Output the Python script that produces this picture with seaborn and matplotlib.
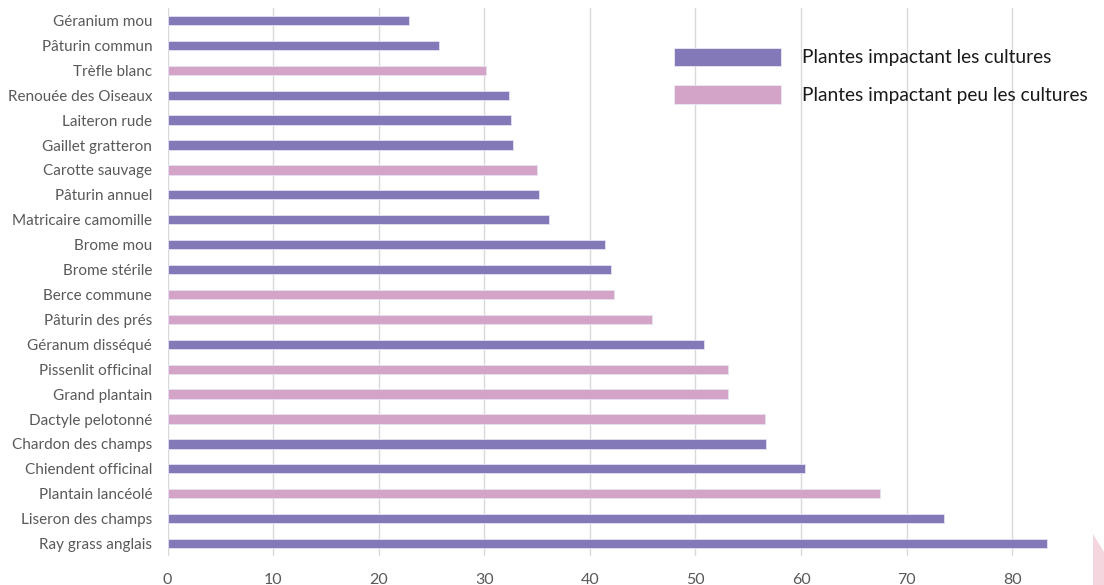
import matplotlib
matplotlib.use("Agg")
import matplotlib.pyplot as plt
from matplotlib.patches import Patch, Polygon
import seaborn as sns
import pandas as pd

# Espèces, fréquence observée et groupe d'impact
especes = [
    "Géranium mou", "Pâturin commun", "Trèfle blanc", "Renouée des Oiseaux",
    "Laiteron rude", "Gaillet gratteron", "Carotte sauvage", "Pâturin annuel",
    "Matricaire camomille", "Brome mou", "Brome stérile", "Berce commune",
    "Pâturin des prés", "Géranum disséqué", "Pissenlit officinal", "Grand plantain",
    "Dactyle pelotonné", "Chardon des champs", "Chiendent officinal",
    "Plantain lancéolé", "Liseron des champs", "Ray grass anglais",
]
valeurs = [
    22.9, 25.7, 30.2, 32.3, 32.5, 32.7, 35.0, 35.2, 36.1, 41.4, 42.0, 42.3,
    45.9, 50.8, 53.1, 53.1, 56.6, 56.7, 60.4, 67.5, 73.5, 83.3,
]
groupe_fort = "Plantes impactant les cultures"
groupe_faible = "Plantes impactant peu les cultures"
groupes = [
    groupe_fort, groupe_fort, groupe_faible, groupe_fort, groupe_fort, groupe_fort,
    groupe_faible, groupe_fort, groupe_fort, groupe_fort, groupe_fort, groupe_faible,
    groupe_faible, groupe_fort, groupe_faible, groupe_faible, groupe_faible,
    groupe_fort, groupe_fort, groupe_faible, groupe_fort, groupe_fort,
]
graduations = [0, 10, 20, 30, 40, 50, 60, 70, 80]
couleurs = {groupe_fort: "#8379B8", groupe_faible: "#D4A3C8"}

df = pd.DataFrame({"espece": especes, "valeur": valeurs, "groupe": groupes})

sns.set_theme(style="white")
plt.rcParams["font.family"] = ["Lato", "DejaVu Sans"]

fig = plt.figure(figsize=(11.04, 5.85), dpi=100)
ax = fig.add_axes([167.5 / 1104, 1 - 556 / 585, (1065 - 167.5) / 1104, (556 - 8) / 585])

sns.barplot(
    data=df, y="espece", x="valeur", hue="groupe", palette=couleurs,
    order=especes, hue_order=[groupe_fort, groupe_faible],
    dodge=False, width=0.37, orient="h", ax=ax, legend=False,
    saturation=1, edgecolor="#e6e1f2", linewidth=0.6,
)

ax.set_xlim(0, 85)
ax.set_ylim(len(especes) - 0.5, -0.5)
ax.set_xticks(graduations)
ax.set_xticklabels([str(g) for g in graduations])
ax.grid(axis="x", color="#d9d9d9", linewidth=1.0)
ax.set_axisbelow(True)
for s in ax.spines.values():
    s.set_visible(False)
ax.set_xlabel("")
ax.set_ylabel("")
ax.tick_params(axis="both", length=0, colors="#595959", labelsize=11)
ax.tick_params(axis="y", pad=11)
ax.tick_params(axis="x", pad=12, labelsize=11.5)

poignees = [Patch(facecolor=couleurs[g], edgecolor="#ece8f5", linewidth=0.6, label=g)
            for g in [groupe_fort, groupe_faible]]
leg = ax.legend(
    handles=poignees, loc="upper left",
    bbox_to_anchor=((666 - 167.5) / (1065 - 167.5), 1 - (40 - 8) / 548),
    frameon=False, fontsize=13.8, handlelength=5.6, handleheight=1.1,
    labelspacing=0.98, handletextpad=1.1, borderaxespad=0,
)
for t in leg.get_texts():
    t.set_color("#1a1a1a")

# Forme décorative dans le coin inférieur droit
fig.patches.append(Polygon(
    [(1093 / 1104, 0), (1093 / 1104, 1 - 534 / 585), (1, 1 - 552 / 585), (1, 0)],
    closed=True, transform=fig.transFigure, facecolor="#f3d6de", edgecolor="none",
))

fig.savefig("out.png", dpi=100)
